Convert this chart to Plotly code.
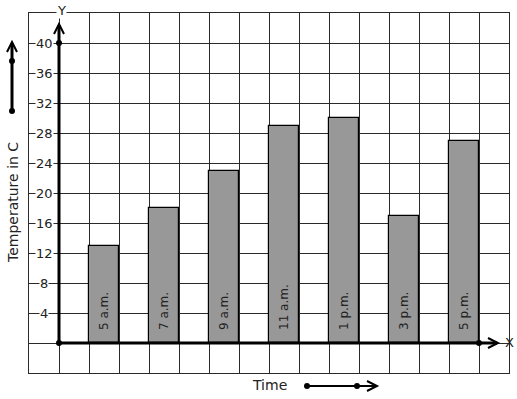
import plotly.graph_objects as go

times = ["5 a.m.", "7 a.m.", "9 a.m.", "11 a.m.", "1 p.m.", "3 p.m.", "5 p.m."]
temps = [13, 18, 23, 29, 30, 17, 27]
bar_pos = [1.5, 3.5, 5.5, 7.5, 9.5, 11.5, 13.5]
y_ticks = [4, 8, 12, 16, 20, 24, 28, 32, 36, 40]

W, H = 517, 399
L, R, T, B = 29, 8, 13, 26
pw, ph = W - L - R, H - T - B

def px(x):
    return (x - L) / pw

def py(y):
    return (H - B - y) / ph

fig = go.Figure()
fig.add_trace(go.Bar(
    x=bar_pos, y=temps, width=1,
    marker=dict(color="#989898", line=dict(color="black", width=1.2)),
    hoverinfo="skip",
))

shapes = []
line = dict(color="black", width=3)
# y axis
shapes.append(dict(type="line", xref="x", yref="y", x0=0, y0=0, x1=0, y1=42.3, line=line, layer="above"))
shapes.append(dict(type="path", xref="paper", yref="paper",
                   path=f"M {px(54)},{py(34)} L {px(59)},{py(24)} L {px(64)},{py(34)}",
                   line=dict(color="black", width=2), layer="above"))
# x axis
shapes.append(dict(type="line", xref="x", yref="y", x0=0, y0=0, x1=14.6, y1=0, line=line, layer="above"))
shapes.append(dict(type="path", xref="paper", yref="paper",
                   path=f"M {px(488)},{py(338)} L {px(498)},{py(343)} L {px(488)},{py(348)}",
                   line=dict(color="black", width=2), layer="above"))

def dot(xp, yp):
    return dict(type="circle", xref="paper", yref="paper", xsizemode="pixel", ysizemode="pixel",
                xanchor=xp, yanchor=yp, x0=-3, x1=3, y0=-3, y1=3,
                fillcolor="black", line=dict(color="black", width=0), layer="above")

shapes += [dot(px(59), py(343)), dot(px(59), py(43)), dot(px(479), py(343))]

# left decorative arrow
shapes.append(dict(type="line", xref="paper", yref="paper", x0=px(12), y0=py(111), x1=px(12), y1=py(43),
                   line=line))
shapes.append(dict(type="path", xref="paper", yref="paper",
                   path=f"M {px(7)},{py(52)} L {px(12)},{py(42)} L {px(17)},{py(52)}",
                   line=dict(color="black", width=2)))
shapes += [dot(px(12), py(111)), dot(px(12), py(61))]

# bottom decorative arrow
shapes.append(dict(type="line", xref="paper", yref="paper", x0=px(307), y0=py(386), x1=px(376), y1=py(386),
                   line=dict(color="black", width=2)))
shapes.append(dict(type="path", xref="paper", yref="paper",
                   path=f"M {px(367)},{py(381)} L {px(377)},{py(386)} L {px(367)},{py(391)}",
                   line=dict(color="black", width=2)))
shapes += [dot(px(307), py(386)), dot(px(357), py(386))]

font = dict(family="DejaVu Sans", size=13, color="#222")
annotations = []
for v in y_ticks:
    annotations.append(dict(x=-0.5, y=v, xref="x", yref="y", text=str(v), showarrow=False,
                            xanchor="center", yanchor="middle",
                            bgcolor="white", borderpad=0, font=font))
for xp, t in zip(bar_pos, times):
    annotations.append(dict(x=xp, y=0, xref="x", yref="y", text=t, showarrow=False, textangle=-90,
                            xanchor="center", yanchor="bottom", yshift=11,
                            font=dict(family="DejaVu Sans", size=12, color="#222")))
annotations.append(dict(x=px(61), y=py(10), xref="paper", yref="paper", text="Y", showarrow=False,
                        xanchor="center", yanchor="middle",
                        bgcolor="white", borderpad=0, font=font))
annotations.append(dict(x=px(509), y=py(342), xref="paper", yref="paper", text="X", showarrow=False,
                        xanchor="center", yanchor="middle", font=font))
annotations.append(dict(x=px(269), y=py(385), xref="paper", yref="paper", text="Time", showarrow=False,
                        xanchor="center", yanchor="middle",
                        font=dict(family="DejaVu Sans", size=14, color="#222")))
annotations.append(dict(x=px(13), y=py(203), xref="paper", yref="paper", text="Temperature in C",
                        textangle=-90, showarrow=False, xanchor="center", yanchor="middle",
                        font=dict(family="DejaVu Sans", size=14, color="#222")))

fig.update_layout(
    width=W, height=H, margin=dict(l=L, r=R, t=T, b=B, pad=0),
    paper_bgcolor="white", plot_bgcolor="white", showlegend=False,
    shapes=shapes, annotations=annotations,
    xaxis=dict(range=[-1, 15], tick0=0, dtick=1, showgrid=True, gridcolor="#2a2a2a", gridwidth=1,
               showticklabels=False, zeroline=False, showline=True, mirror=True,
               linecolor="#2a2a2a", linewidth=1, ticks=""),
    yaxis=dict(range=[-4, 44], tick0=0, dtick=4, showgrid=True, gridcolor="#2a2a2a", gridwidth=1,
               showticklabels=False, zeroline=False, showline=True, mirror=True,
               linecolor="#2a2a2a", linewidth=1, ticks=""),
    bargap=0,
)

fig.write_html("out.html")
